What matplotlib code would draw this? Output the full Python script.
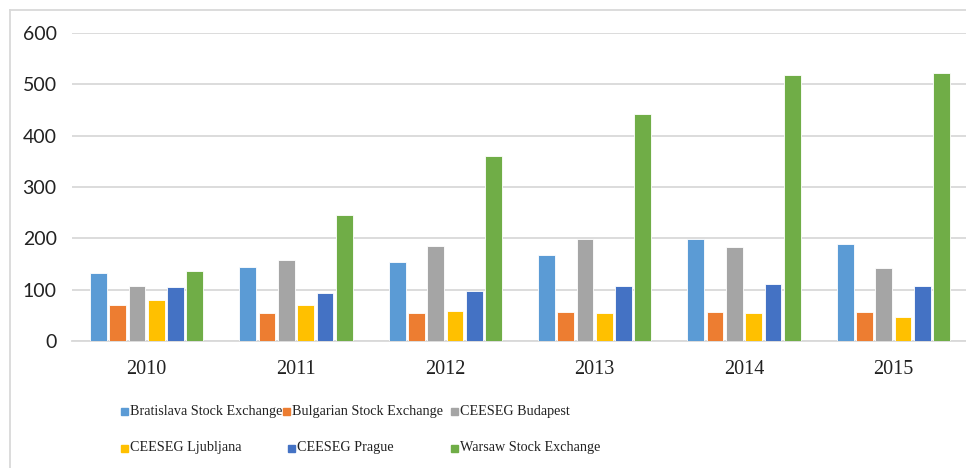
import matplotlib
matplotlib.use("Agg")
import matplotlib.pyplot as plt
from matplotlib.patches import Rectangle
from matplotlib.lines import Line2D
import numpy as np

years = ["2010", "2011", "2012", "2013", "2014", "2015"]
series_names = ["Bratislava Stock Exchange", "Bulgarian Stock Exchange", "CEESEG Budapest",
                "CEESEG Ljubljana", "CEESEG Prague", "Warsaw Stock Exchange"]
bratislava = [133, 145, 153, 168, 198, 188]
bulgarian = [70, 54, 54, 57, 57, 57]
budapest = [107, 158, 185, 198, 183, 142]
ljubljana = [79, 70, 59, 54, 54, 47]
prague = [105, 94, 97, 107, 112, 107]
warsaw = [137, 245, 361, 442, 518, 523]
colors = ["#5B9BD5", "#ED7D31", "#A5A5A5", "#FFC000", "#4472C4", "#70AD47"]

W, H = 966, 468
fig = plt.figure(figsize=(W / 100, H / 100), dpi=100)
ax = fig.add_axes([72 / W, 1 - 341 / H, 896 / W, 308 / H])

data = [bratislava, bulgarian, budapest, ljubljana, prague, warsaw]
x = np.arange(len(years))
slot = 0.129
bw = 0.112
for i, vals in enumerate(data):
    ax.bar(x + (i - 2.5) * slot, vals, width=bw, color=colors[i],
           edgecolor="white", linewidth=0.6, zorder=3)

ax.set_xlim(-0.5, len(years) - 0.5)
ax.set_ylim(0, 600)
ax.set_yticks(range(0, 601, 100))
ax.set_xticks(x)
ax.set_xticklabels(years, family="Liberation Serif", fontsize=14.5, color="#222222")
for lab in ax.get_yticklabels():
    lab.set_family("Lato")
    lab.set_fontsize(14)
    lab.set_color("#222222")
ax.tick_params(axis="both", length=0)
ax.tick_params(axis="y", pad=11)
ax.tick_params(axis="x", pad=14)
ax.grid(axis="y", color="#D9D9D9", linewidth=1.3, zorder=0)
for s in ["top", "right", "left"]:
    ax.spines[s].set_visible(False)
ax.spines["bottom"].set_color("#D9D9D9")
ax.spines["bottom"].set_linewidth(1.3)

# chart border
fig.add_artist(Line2D([10 / W, 10 / W], [1 - 10 / H, 0], transform=fig.transFigure,
                      color="#D9D9D9", linewidth=1.3))
fig.add_artist(Line2D([10 / W, 1], [1 - 10 / H, 1 - 10 / H], transform=fig.transFigure,
                      color="#D9D9D9", linewidth=1.3))

# legend, placed like the Excel layout
legend_pos = [(121, 411), (283, 411), (451, 411), (121, 448), (288, 448), (451, 448)]
for i, name in enumerate(series_names):
    px, py = legend_pos[i]
    fig.add_artist(Rectangle((px / W, 1 - (py + 3.5) / H), 7 / W, 7 / H,
                             transform=fig.transFigure, color=colors[i]))
    fig.text((px + 9) / W, 1 - py / H, name, family="Liberation Serif", fontsize=10.2,
             color="#222222", va="center", ha="left")

fig.savefig("out.png", dpi=100)
